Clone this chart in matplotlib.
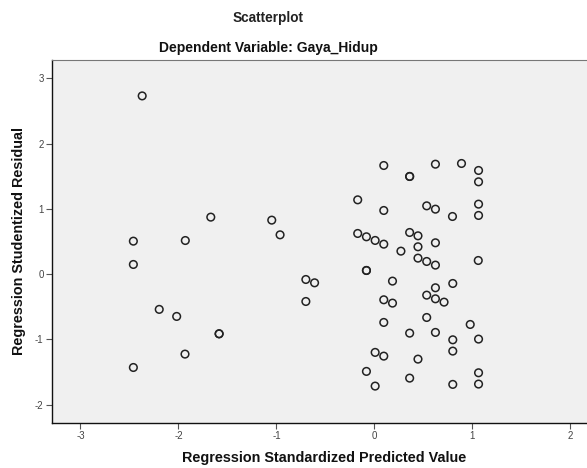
import matplotlib
matplotlib.use("Agg")
import matplotlib.pyplot as plt

plt.rcParams['font.family'] = ['Liberation Sans', 'DejaVu Sans']

predicted = [
    -2.37, -2.46, -1.93, -1.67, -1.048, -0.963,
    -2.46, -2.196, -2.018, -1.585, -1.585, -1.933, -2.46,
    0.095, 0.622, 0.888, 0.359, 0.359, 1.062, 1.062, -0.171, 0.095,
    0.533, 0.622, 0.796, 1.062, 1.062,
    -0.171, -0.082, 0.007, 0.095, 0.359, 0.444, 0.622, 0.270, 0.444,
    0.444, 0.533, 0.622, 1.059, -0.082, -0.082, -0.700, -0.611, 0.184,
    0.799, 0.622, -0.700, 0.095, 0.184, 0.533, 0.622, 0.710,
    0.095, 0.533, 0.977, 0.359, 0.622, 0.799, 1.062, 0.007, 0.095,
    0.444, 0.799, -0.082, 0.359, 0.007, 0.799, 1.062, 1.062,
]
residual = [
    2.73, 0.505, 0.515, 0.873, 0.827, 0.602,
    0.148, -0.54, -0.648, -0.914, -0.914, -1.225, -1.43,
    1.664, 1.684, 1.695, 1.496, 1.496, 1.588, 1.414, 1.138, 0.975,
    1.046, 0.995, 0.883, 1.072, 0.899,
    0.623, 0.572, 0.516, 0.459, 0.638, 0.587, 0.480, 0.352, 0.419,
    0.245, 0.194, 0.138, 0.209, 0.056, 0.056, -0.082, -0.133, -0.107,
    -0.143, -0.209, -0.419, -0.393, -0.444, -0.322, -0.378, -0.429,
    -0.740, -0.664, -0.771, -0.904, -0.893, -1.006, -0.995, -1.199, -1.256,
    -1.302, -1.179, -1.490, -1.593, -1.715, -1.689, -1.511, -1.684,
]
x_ticks = [-3, -2, -1, 0, 1, 2]
y_ticks = [-2, -1, 0, 1, 2, 3]

fig = plt.figure(figsize=(5.87, 4.68), dpi=100)
ax = fig.add_axes([0.0886, 0.0962, 0.92, 0.7756])
ax.set_facecolor('#f0f0f0')
ax.scatter(predicted, residual, s=30, facecolors='none', edgecolors='#222222',
           linewidths=1.1, zorder=3)
ax.set_xlim(-3.29, 2.22)
ax.set_ylim(-2.28, 3.28)
ax.set_xticks(x_ticks)
ax.set_yticks(y_ticks)
ax.set_xticklabels([str(t) for t in x_ticks])
ax.set_yticklabels([str(t) for t in y_ticks])
ax.tick_params(axis='both', direction='out', length=4, width=0.8,
               colors='#555555', labelsize=7, labelcolor='#444444', pad=2)
ax.spines['right'].set_visible(False)
ax.spines['top'].set_color('#777777')
ax.spines['left'].set_color('#111111')
ax.spines['bottom'].set_color('#111111')
ax.spines['left'].set_linewidth(1.0)
ax.spines['bottom'].set_linewidth(1.0)

fig.text(268 / 587, 1 - 18 / 468, 'Scatterplot', ha='center', va='center',
         fontsize=9.8, fontweight='bold', color='#222222')
fig.text(268 / 587, 1 - 48 / 468, 'Dependent Variable: Gaya_Hidup', ha='center',
         va='center', fontsize=10, fontweight='bold', color='#111111')
fig.text(324 / 587, 1 - 458 / 468, 'Regression Standardized Predicted Value',
         ha='center', va='center', fontsize=10.4, fontweight='bold', color='#111111')
fig.text(19 / 587, 1 - 241 / 468, 'Regression Studentized Residual', ha='center',
         va='center', rotation=90, fontsize=10.4, fontweight='bold', color='#111111')

fig.savefig('out.png', dpi=100)
